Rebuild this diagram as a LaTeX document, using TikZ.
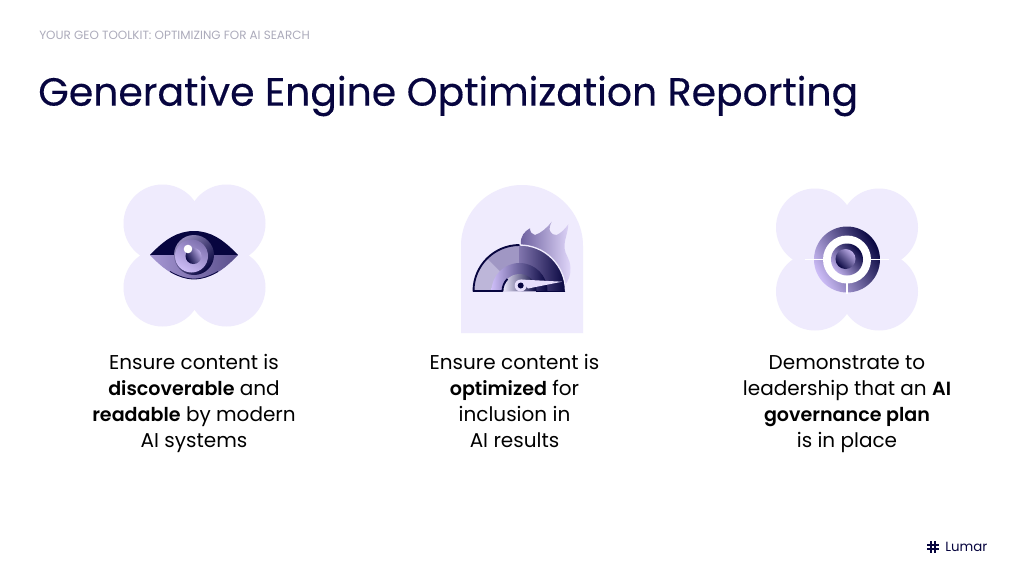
\documentclass[tikz,border=0pt]{standalone}
\usepackage{fontspec}
\setmainfont[BoldFont={Poppins SemiBold},BoldFeatures={Scale=0.955}]{Poppins}
\newfontfamily\headfont[FakeBold=0.3]{Poppins}
\definecolor{navy}{HTML}{07053F}
\definecolor{lobe}{HTML}{EFEBFD}
\definecolor{lilac}{HTML}{CDBDF7}
\definecolor{dusk}{HTML}{6C5F9E}
\definecolor{greyhead}{HTML}{ACABBB}
\tikzset{
  backdrop/.style={fill=lobe},
  bodytext/.style={align=center,text=black,inner sep=0pt,font=\fontsize{15}{19.5}\selectfont},
  crosshair/.style={white,line width=1.3pt},
  logobar/.style={navy,line width=1pt},
}
\newcommand{\clover}[2]{
  \foreach \dx/\dy in {-32/-32,32/-32,-32/32,32/32}
    \fill[backdrop] (#1+\dx,#2+\dy) circle[radius=39];
  \fill[backdrop] (#1-33,#2-33) rectangle (#1+33,#2+33);
}
\begin{document}
\begin{tikzpicture}[x=0.75pt,y=-0.75pt]
\useasboundingbox (0,0) rectangle (1024,579);
\fill[white] (0,0) rectangle (1024,579);

\node[anchor=west,inner sep=0pt,text=greyhead,font=\fontsize{8.95}{11}\selectfont] (toolkit) at (39,35) {YOUR GEO TOOLKIT: OPTIMIZING FOR AI SEARCH};
\node[anchor=west,inner sep=0pt,text=navy,font=\fontsize{29.5}{34}\headfont] (headline) at (38,96) {Generative Engine Optimization Reporting};

\clover{194.5}{255.5}
\fill[navy] (150,255) .. controls (165,239) and (178,231) .. (194,231) .. controls (210,231) and (223,239) .. (238,255) -- cycle;
\shade[left color=lilac!60!dusk,right color=dusk!80!navy] (150,255) .. controls (165,271) and (178,279) .. (194,279) .. controls (210,279) and (223,271) .. (238,255) -- cycle;
\draw[navy,line width=0.6pt] (170,271.5) .. controls (178,276) and (186,279) .. (194,279) .. controls (202,279) and (210,276) .. (218,271.5);
\shade[top color=dusk!70!lobe,bottom color=navy,shading angle=45] (194,255) circle[radius=20];
\shade[top color=dusk!80!lilac,bottom color=lilac,shading angle=-30] (191.5,256) circle[radius=16.5];
\shade[top color=lilac!80!dusk,bottom color=navy,shading angle=-60] (193.5,256) circle[radius=8];
\fill[white] (188,249) circle[radius=4.3];

\fill[backdrop] (461,246) arc[start angle=180,end angle=360,radius=61] -- (583,333) -- (461,333) -- cycle;
\shade[left color=dusk,right color=lilac!60!white] (521,244) .. controls (520,236) and (525,231) .. (530,228.3) .. controls (530,232) and (532,234.5) .. (535,235) .. controls (541,233) and (547,228) .. (551.7,221.7) .. controls (550,225) and (549,229) .. (550,231) .. controls (552,234) and (554,235.5) .. (556.7,235) .. controls (561,233) and (565,229) .. (568.3,224.3) .. controls (568,233) and (564,240) .. (564.5,248) .. controls (565,255) and (570,258) .. (570.5,268) .. controls (571,275) and (568,281) .. (565,285) -- (565,291) -- (521,291) -- cycle;
\fill[dusk!38!lobe] (473.5,291) arc[start angle=180,end angle=225,radius=46] -- (519.5,291) -- cycle;
\fill[dusk!60!lobe] (487,258.5) arc[start angle=225,end angle=270,radius=46] -- (519.5,291) -- cycle;
\shade[left color=dusk!85!lobe,right color=navy] (519.5,245) arc[start angle=270,end angle=360,radius=46] -- (519.5,291) -- cycle;
\draw[lobe,line width=1pt] (519.5,245) arc[start angle=270,end angle=360,radius=46];
\shade[left color=lilac,middle color=lilac!70!dusk,right color=navy] (491.5,291) arc[start angle=180,end angle=360,radius=28] -- cycle;
\shade[left color=lobe,right color=navy] (502.5,291) arc[start angle=180,end angle=360,radius=17] -- cycle;
\draw[navy,line width=1.4pt,line join=round] (519.5,245) arc[start angle=270,end angle=180,radius=46] -- (502.5,291) arc[start angle=180,end angle=225,radius=17];
\draw[navy,line width=1.4pt] (536,291.5) -- (565,291.5);
\fill[lilac!50!white] (520.7,279.5) -- (562,281.7) -- (528,288.5) -- cycle;
\fill[lilac!50!white] (520.7,285.5) circle[radius=6];
\fill[navy] (520.7,285.5) circle[radius=3];

\clover{847}{259.5}
\shade[top color=navy,bottom color=lilac,shading angle=-60] (847,259.5) circle[radius=33];
\fill[white] (847,259.5) circle[radius=24];
\shade[top color=navy,bottom color=lilac!85!dusk,shading angle=-50] (847,259.5) circle[radius=16];
\shade[top color=lilac!85!dusk,bottom color=navy,shading angle=-45] (845.5,259) circle[radius=10];
\draw[crosshair] (805,259.5) -- (824,259.5);
\draw[crosshair] (870,259.5) -- (889,259.5);
\draw[crosshair] (847,283) -- (847,293.5);

\node[bodytext] (discover) at (194,403) {Ensure content is\\\textbf{discoverable} and\\\textbf{readable} by modern\\AI systems};
\node[bodytext] (optimize) at (514.5,401) {Ensure content is\\\textbf{optimized} for\\inclusion in\\AI results};
\node[bodytext] (govern) at (847,404) {Demonstrate to\\leadership that an \textbf{AI}\\\textbf{governance plan}\\is in place};

\node[anchor=west,inner sep=0pt,text=navy,font=\fontsize{10}{12}\selectfont] (lumar) at (945,547) {Lumar};
\foreach \off in {-2,2} {
  \draw[logobar] (933+\off,541) -- (933+\off,553);
  \draw[logobar] (927,547+\off) -- (939,547+\off);
}
\end{tikzpicture}
\end{document}
